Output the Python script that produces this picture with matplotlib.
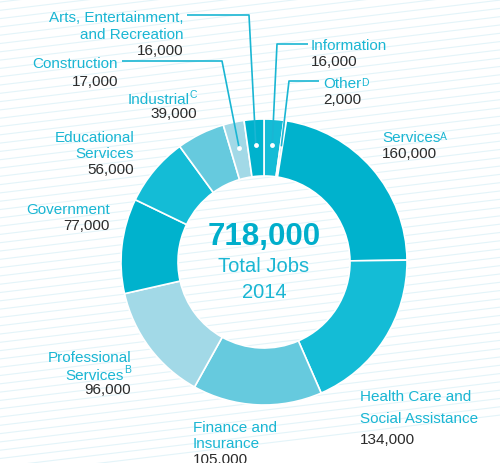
import numpy as np
import matplotlib.pyplot as plt

plt.rcParams['font.family'] = ['Liberation Sans', 'DejaVu Sans']

W, H = 500, 464

# data, clockwise from 12 o'clock
sectors = ["Information", "Other", "Services", "Health Care and\nSocial Assistance",
           "Finance and\nInsurance", "Professional\nServices", "Government",
           "Educational\nServices", "Industrial", "Construction",
           "Arts, Entertainment,\nand Recreation"]
jobs = [16000, 2000, 160000, 134000, 105000, 96000, 77000, 56000, 39000, 17000, 16000]
notes = ["", "D", "A", "", "", "B", "", "", "C", "", ""]
total_jobs = 718000
year = 2014

colors = ["#14bcd6", "#66cade", "#00b2cd", "#14bcd6", "#66cade", "#a2d9e7",
          "#00b2cd", "#14bcd6", "#66cade", "#a2d9e7", "#00b2cd"]
teal = "#1ab6d3"
dark = "#2b2b2b"

# label layout in pixels: anchor x, first line centre y, alignment, line step
layout = [(311, 45, "left", 16), (323, 82, "left", 16), (382, 137, "left", 16),
          (360, 396, "left", 21.5), (193, 427, "left", 16), (131, 357, "right", 16),
          (110, 209, "right", 16), (134, 137, "right", 15.5), (197, 97, "right", 16),
          (118, 63, "right", 17), (183, 17, "right", 16.3)]
# leader lines for the thin slices: label end, elbow
leaders = {0: [(308, 45), (277, 45)], 1: [(319, 82), (289, 82)],
           9: [(122, 62), (222, 62)], 10: [(187, 16), (249, 16)]}

cx, cy, R, ring = 264, 263, 143, 57

fig = plt.figure(figsize=(W / 100, H / 100), dpi=100)
ax = fig.add_axes([0, 0, 1, 1])

# striped background
for y0 in np.arange(-80, H + 20, 8.3):
    xs = np.array([0, W])
    ax.plot(xs, H - y0 + 0.12 * xs, color="#e3f4f9", lw=0.8, zorder=0)

wedges, _ = ax.pie(jobs, colors=colors, startangle=90, counterclock=False,
                   center=(cx, H - cy), radius=R, frame=True,
                   wedgeprops=dict(width=ring, edgecolor="white", linewidth=1.2))
ax.set_xlim(0, W)
ax.set_ylim(0, H)
ax.set_aspect('equal')
ax.axis('off')

for i, name in enumerate(sectors):
    x, y, ha, step = layout[i]
    lines = name.split("\n")
    n = len(lines)
    for k, line in enumerate(lines):
        yb = H - (y + k * step) - 5.5
        last = k == n - 1 and notes[i]
        if last and ha == "right":
            sup = ax.text(x, yb + 5, notes[i], ha='right', va='baseline',
                          fontsize=7.5, color=teal, zorder=5)
            ax.annotate(line, xy=(0, 0), xycoords=sup, xytext=(0, -5 * 0.72),
                        textcoords='offset points', ha='right', va='baseline',
                        fontsize=11, color=teal, zorder=5)
        else:
            t = ax.text(x, yb, line, ha=ha, va='baseline', fontsize=11,
                        color=teal, zorder=5)
            if last:
                ax.annotate(notes[i], xy=(1, 0), xycoords=t, xytext=(0, 5 * 0.72),
                            textcoords='offset points', ha='left', va='baseline',
                            fontsize=7.5, color=teal, zorder=5)
    ax.text(x, H - (y + n * step) - 5.5, f"{jobs[i]:,}", ha=ha,
            va='baseline', fontsize=11, color=dark, zorder=5)

for i, pts in leaders.items():
    w = wedges[i]
    mid = np.deg2rad((w.theta1 + w.theta2) / 2)
    dx = cx + 117 * np.cos(mid)
    dy = H - cy + 117 * np.sin(mid)
    xs = [p[0] for p in pts] + [dx]
    ys = [H - p[1] for p in pts] + [dy]
    ax.plot(xs, ys, color=teal, lw=1.2, zorder=4, solid_capstyle='butt')
    if i != 1:
        ax.plot(dx, dy, 'o', color="white", ms=3.5, mec="none", zorder=6)

ax.text(cx, H - 237, f"{total_jobs:,}", ha='center', va='center',
        fontsize=22.5, fontweight='bold', color="#00aecb")
ax.text(cx, H - 266, "Total Jobs", ha='center', va='center', fontsize=14.5, color=teal)
ax.text(cx, H - 292, str(year), ha='center', va='center', fontsize=14.5, color=teal)

fig.savefig("out.png", dpi=100, facecolor="white")
